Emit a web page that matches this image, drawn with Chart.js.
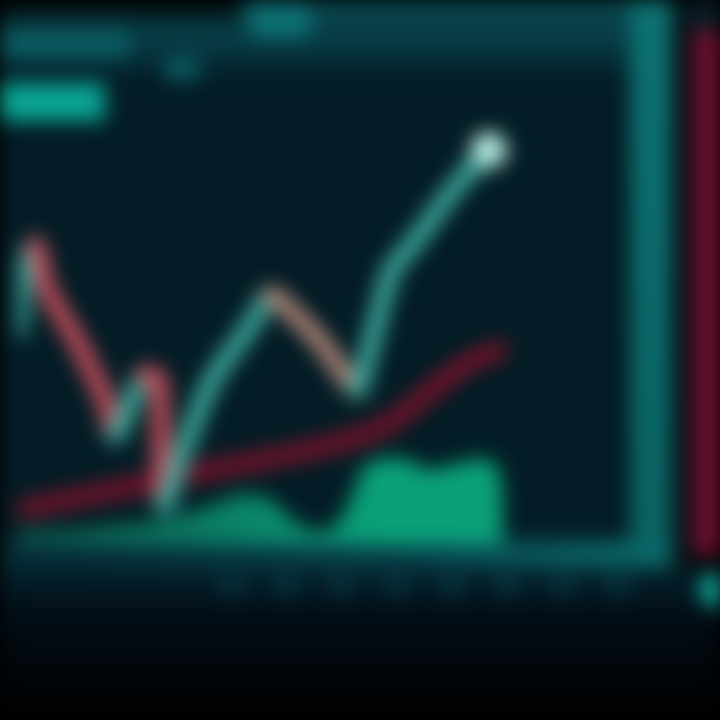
<!DOCTYPE html>
<html>
<head>
<meta charset="utf-8">
<script src="https://cdn.jsdelivr.net/npm/chart.js@4.4.1/dist/chart.umd.min.js"></script>
<style>
  html,body{margin:0;padding:0;background:#000;overflow:hidden;}
  #wrap{width:720px;height:720px;position:relative;}
  canvas{filter:blur(10px);}
</style>
</head>
<body>
<div id="wrap"><canvas id="c" width="720" height="720"></canvas></div>
<script>
// ---- data (time index, price / volume units) ----
const priceTimes  = [0, 0.8, 1.8, 3, 6, 9, 10, 13, 14.5, 15, 17, 20, 24, 26, 28, 31, 34, 35, 37, 38.5, 41, 44, 47, 48.5];
const priceValues = [42.6, 55.4, 59.4, 50.5, 40.6, 28.7, 21.8, 33.7, 32.7, 7.9, 18.8, 32.7, 43.6, 49.5, 46.5, 40.6, 32.7, 30.7, 44.6, 54.5, 60.4, 68.3, 75.2, 78.2];

const maTimes  = [0, 10, 15, 20, 25, 30, 34, 38, 42, 46, 49.5];
const maValues = [6.9, 10.9, 12.9, 14.9, 16.8, 18.8, 20.8, 23.8, 29.7, 35.6, 38.6];

const volTimes  = [0, 5, 10, 15, 20, 23, 26, 29, 32, 34, 36, 40, 42, 45, 48, 49.5, 50];
const volValues = [3, 3, 4, 5, 8, 10, 9, 4, 3, 8, 16, 17, 15, 16, 17, 15, 0];

const toPts = (xs, ys) => xs.map((x, i) => ({x: x, y: ys[i]}));

const UP = '#3eac9f', DOWN = '#c84f5c', DOWN_SOFT = '#b48878';

const frame = {
  id: 'frame',
  beforeDraw(chart) {
    const ctx = chart.ctx, ca = chart.chartArea, W = chart.width, H = chart.height;
    ctx.save();
    ctx.fillStyle = '#000'; ctx.fillRect(0, 0, W, H);
    // screen body
    ctx.fillStyle = '#031c25'; ctx.fillRect(0, 0, ca.right + 80, ca.bottom + 15);
    // top band
    let g = ctx.createLinearGradient(0, 0, 0, ca.top + 40);
    g.addColorStop(0, '#0a4a52'); g.addColorStop(0.55, '#073944'); g.addColorStop(1, '#031c25');
    ctx.fillStyle = g; ctx.fillRect(0, 0, ca.right + 15, ca.top + 40);
    // dark top-left corner
    g = ctx.createLinearGradient(0, 0, 0, 30);
    g.addColorStop(0, '#000'); g.addColorStop(1, 'rgba(0,0,0,0)');
    ctx.fillStyle = g; ctx.fillRect(0, 0, 240, 30);
    // blobs in top band
    ctx.fillStyle = '#0c7274';
    ctx.fillRect(250, 5, 60, 32);
    ctx.fillStyle = '#0a5c62';
    ctx.fillRect(0, ca.top - 10, 130, 28);
    ctx.fillRect(165, ca.top + 18, 35, 22);
    // top-left label
    ctx.fillStyle = '#0aa594'; ctx.fillRect(0, ca.top + 43, 105, 38);
    // right teal band
    g = ctx.createLinearGradient(0, 0, 0, ca.bottom);
    g.addColorStop(0, '#0c7272'); g.addColorStop(1, '#0a6262');
    ctx.fillStyle = g; ctx.fillRect(ca.right + 10, 0, 42, ca.bottom + 20);
    // bottom band
    g = ctx.createLinearGradient(0, 0, ca.right + 50, 0);
    g.addColorStop(0, '#052a34'); g.addColorStop(0.6, '#07424c'); g.addColorStop(1, '#0b6a6a');
    ctx.fillStyle = g; ctx.fillRect(0, ca.bottom - 5, ca.right + 52, 28);
    // gap and red strip
    ctx.fillStyle = '#050f16'; ctx.fillRect(ca.right + 52, 0, 18, ca.bottom + 20);
    g = ctx.createLinearGradient(ca.right + 70, 0, W, 0);
    g.addColorStop(0, '#3a0a1c'); g.addColorStop(0.4, '#6e1030'); g.addColorStop(1, '#7a1232');
    ctx.fillStyle = g; ctx.fillRect(ca.right + 70, 30, 30, ca.bottom - 20);
    ctx.fillStyle = '#0a2028'; ctx.fillRect(ca.right + 70, 0, 30, 30);
    // below screen
    g = ctx.createLinearGradient(0, ca.bottom + 23, 0, H);
    g.addColorStop(0, '#04222c'); g.addColorStop(0.3, '#020d16'); g.addColorStop(1, '#000');
    ctx.fillStyle = g; ctx.fillRect(0, ca.bottom + 23, W, H - ca.bottom - 23);
    // faint tick marks row below screen
    ctx.fillStyle = '#06323c';
    for (let x = ca.left + 200; x < ca.right; x += 55) ctx.fillRect(x, ca.bottom + 30, 28, 20);
    // bright spot
    ctx.fillStyle = '#12b4a4';
    ctx.beginPath(); ctx.arc(W - 2, ca.bottom + 45, 18, 0, Math.PI * 2); ctx.fill();
    ctx.restore();
  }
};

new Chart(document.getElementById('c'), {
  type: 'line',
  data: {
    datasets: [
      {
        label: 'Price',
        data: toPts(priceTimes, priceValues),
        borderWidth: 18,
        borderCapStyle: 'round',
        borderJoinStyle: 'round',
        tension: 0.2,
        segment: {
          borderColor: c => c.p1.parsed.y >= c.p0.parsed.y ? UP : (c.p0.parsed.x > 25 ? DOWN_SOFT : DOWN)
        },
        pointRadius: c => c.dataIndex === priceTimes.length - 1 ? 18 : 0,
        pointBackgroundColor: '#b8ece0',
        pointBorderWidth: 0,
        order: 1
      },
      {
        label: 'MA',
        data: toPts(maTimes, maValues),
        borderColor: '#701228',
        borderWidth: 20,
        borderCapStyle: 'round',
        tension: 0.4,
        pointRadius: 0,
        order: 2
      },
      {
        label: 'Volume',
        data: toPts(volTimes, volValues),
        borderColor: '#0a9a74',
        backgroundColor: c => {
          const ca = c.chart.chartArea;
          if (!ca) return '#0a9a74';
          const g = c.chart.ctx.createLinearGradient(ca.left, 0, ca.left + 360, 0);
          g.addColorStop(0, '#0b5a4e'); g.addColorStop(0.5, '#0a7a62'); g.addColorStop(1, '#0aa078');
          return g;
        },
        borderWidth: 0,
        fill: 'start',
        tension: 0.4,
        pointRadius: 0,
        order: 3
      }
    ]
  },
  options: {
    responsive: false,
    animation: false,
    layout: {padding: {left: 0, right: 100, top: 40, bottom: 175}},
    plugins: {legend: {display: false}, tooltip: {enabled: false}},
    scales: {
      x: {type: 'linear', min: 0, max: 62, display: false},
      y: {min: 0, max: 100, display: false}
    }
  },
  plugins: [frame]
});
</script>
</body>
</html>
